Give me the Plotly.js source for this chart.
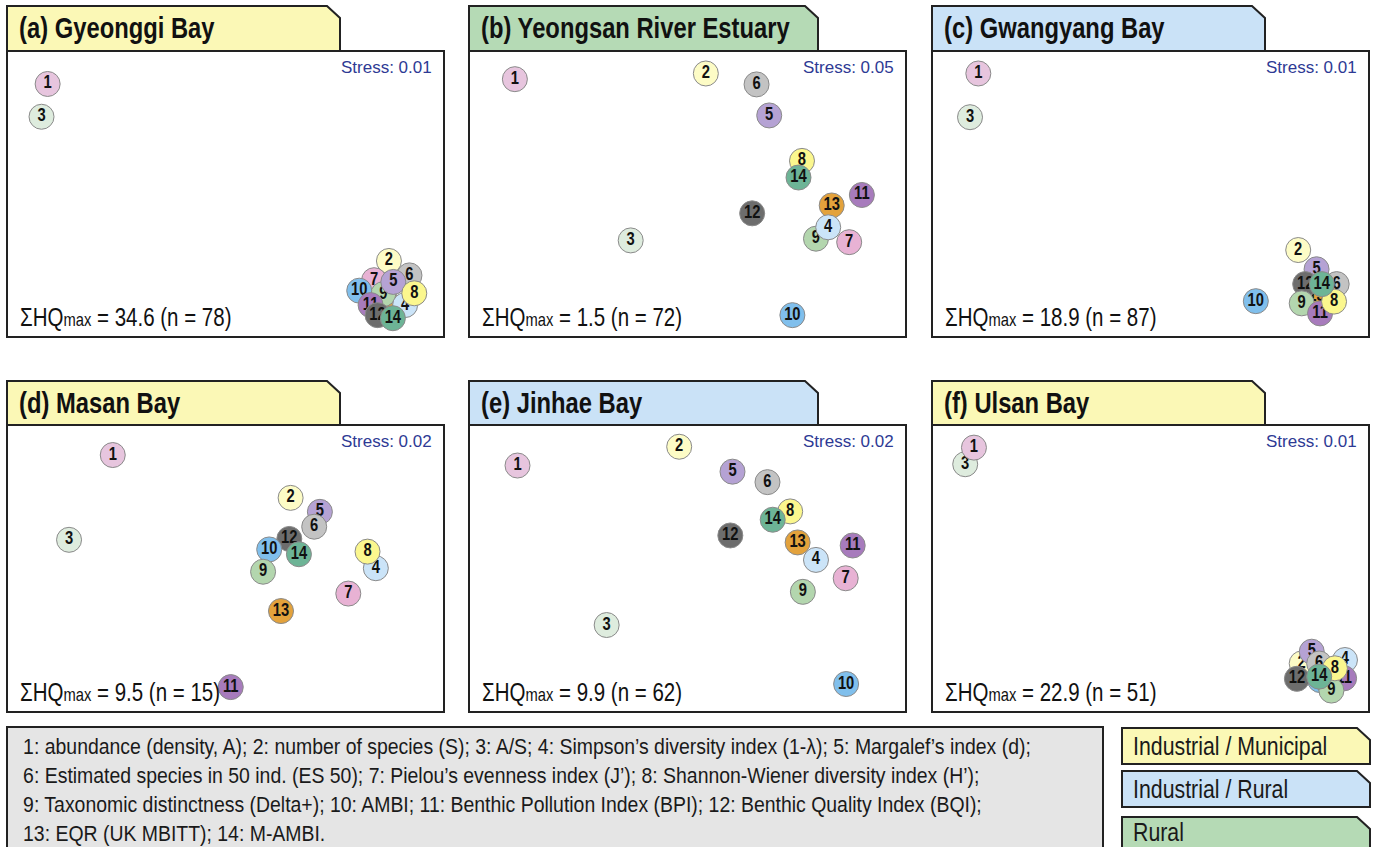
<!DOCTYPE html>
<html>
<head>
<meta charset="utf-8">
<script src="https://cdn.plot.ly/plotly-3.0.1.min.js"></script>
<style>
  html, body { margin: 0; padding: 0; background: #ffffff; }
  #chart { width: 1375px; height: 847px; }
</style>
</head>
<body>
<div id="chart"></div>
<script>
// nMDS ordinations of 14 benthic metrics at six Korean bays.
// Coordinates are in common ordination units (same scale on both axes).

const metricIds = [1, 2, 3, 4, 5, 6, 7, 8, 9, 10, 11, 12, 13, 14];

// (a) Gyeonggi Bay
const gyeonggiX = [9.3, 87.4, 7.9, 91.1, 88.4, 92.1, 84.0, 93.2, 86.1, 80.6, 83.2, 84.8, 86.5, 88.3];
const gyeonggiY = [57.9, 17.4, 50.4, 7.3, 12.6, 14.1, 13.0, 10.0, 9.8, 10.6, 7.3, 5.0, 8.5, 4.3];
// (b) Yeongsan River Estuary
const yeongsanX = [10.5, 54.2, 37.0, 82.2, 68.7, 65.8, 87.0, 76.2, 79.4, 74.0, 89.9, 64.8, 83.0, 75.4];
const yeongsanY = [59.0, 60.3, 22.1, 25.1, 50.7, 57.8, 21.7, 40.3, 22.5, 5.0, 32.5, 28.3, 30.1, 36.5];
// (c) Gwangyang Bay
const gwangyangX = [10.6, 83.8, 8.7, 89.9, 88.0, 92.6, 87.0, 92.0, 84.6, 74.1, 88.8, 85.4, 88.0, 89.2];
const gwangyangY = [60.3, 19.9, 50.3, 10.0, 15.5, 12.1, 8.9, 8.1, 7.7, 8.2, 5.4, 12.1, 9.2, 12.1];
// (d) Masan Bay
const masanX = [24.2, 64.9, 14.2, 84.4, 71.6, 70.3, 78.1, 82.5, 58.6, 60.0, 51.2, 64.6, 62.7, 66.8];
const masanY = [58.8, 49.0, 39.4, 32.9, 45.8, 42.4, 27.1, 36.7, 32.1, 37.2, 5.7, 39.6, 23.1, 36.1];
// (e) Jinhae Bay
const jinhaeX = [11.1, 48.1, 31.5, 79.4, 60.3, 68.3, 86.2, 73.5, 76.4, 86.3, 87.8, 59.8, 75.2, 69.5];
const jinhaeY = [56.4, 60.7, 19.9, 34.8, 55.0, 52.6, 30.6, 45.9, 27.5, 6.4, 38.1, 40.4, 38.8, 44.0];
// (f) Ulsan Bay
const ulsanX = [9.6, 84.6, 7.6, 94.5, 86.9, 88.6, 89.9, 92.2, 91.4, 88.8, 94.3, 83.5, 90.6, 88.6];
const ulsanY = [60.5, 11.1, 56.7, 11.9, 13.8, 11.1, 8.5, 10.0, 4.9, 7.3, 7.7, 7.6, 6.9, 8.1];

// Metric ids listed from the bottom of the stack to the top
const gyeonggiOrder = [13, 2, 7, 9, 10, 6, 5, 4, 8, 11, 12, 14, 1, 3];
const yeongsanOrder = [1, 2, 3, 5, 6, 8, 14, 12, 11, 9, 13, 4, 7, 10];
const gwangyangOrder = [4, 7, 13, 2, 5, 6, 12, 9, 11, 8, 14, 1, 3, 10];
const masanOrder = [1, 2, 3, 5, 6, 12, 10, 9, 14, 4, 8, 7, 13, 11];
const jinhaeOrder = [1, 2, 3, 5, 6, 8, 14, 12, 4, 13, 11, 7, 9, 10];
const ulsanOrder = [3, 1, 7, 10, 13, 2, 4, 5, 6, 11, 9, 12, 8, 14];

const panelLetters = ['a', 'b', 'c', 'd', 'e', 'f'];
const bayNames = ['Gyeonggi Bay', 'Yeongsan River Estuary', 'Gwangyang Bay', 'Masan Bay', 'Jinhae Bay', 'Ulsan Bay'];
const stressValues = [0.01, 0.05, 0.01, 0.02, 0.02, 0.01];
const hqMaxValues = [34.6, 1.5, 18.9, 9.5, 9.9, 22.9];
const sampleCounts = [78, 72, 87, 15, 62, 51];
const bayTypes = ['Industrial / Municipal', 'Rural', 'Industrial / Rural', 'Industrial / Municipal', 'Industrial / Rural', 'Industrial / Municipal'];

const typeNames = ['Industrial / Municipal', 'Industrial / Rural', 'Rural'];

const metricLegendLines = [
  '1: abundance (density, A); 2: number of species (S); 3: A/S; 4: Simpson\u2019s diversity index (1-\u03bb); 5: Margalef\u2019s index (d);',
  '6: Estimated species in 50 ind. (ES 50); 7: Pielou\u2019s evenness index (J\u2019); 8: Shannon-Wiener diversity index (H\u2019);',
  '9: Taxonomic distinctness (Delta+); 10: AMBI; 11: Benthic Pollution Index (BPI); 12: Benthic Quality Index (BQI);',
  '13: EQR (UK MBITT); 14: M-AMBI.'
];

// ---- styling ----
const metricColors = ['#e7c5de', '#fdfcc6', '#deecde', '#cbe4f8', '#b5a2d4', '#c3c3c3', '#e8b2d4',
                      '#fbf78e', '#b3d6ae', '#80bfec', '#a77bbc', '#6d6d6d', '#e3a23c', '#6db496'];
const typeColors = { 'Industrial / Municipal': '#fbf8b6', 'Industrial / Rural': '#cae2f7', 'Rural': '#b5dab5' };

const FONT = "'Liberation Sans', Arial, sans-serif";
const EDGE = '#222222';
const NARROW_FACTOR = 0.82;     // horizontal squeeze giving a condensed face
const KEY_LINE_WIDTH = 1008;    // width of the longest line of the metric key, px

const W = 1375, H = 847;
const px = v => v / W;
const py = v => 1 - v / H;
const UNIT = 4.37; // pixels per ordination unit

const columns = [{ left: 7, right: 444, tabRight: 340 },
                 { left: 469, right: 906, tabRight: 818 },
                 { left: 932, right: 1369, tabRight: 1265 }];
const rows = [{ tabTop: 6, top: 51, bottom: 337 },
              { tabTop: 381, top: 425, bottom: 712 }];

const panelX = [gyeonggiX, yeongsanX, gwangyangX, masanX, jinhaeX, ulsanX];
const panelY = [gyeonggiY, yeongsanY, gwangyangY, masanY, jinhaeY, ulsanY];
const panelOrder = [gyeonggiOrder, yeongsanOrder, gwangyangOrder, masanOrder, jinhaeOrder, ulsanOrder];

const traces = [];
const shapes = [];
const annotations = [];
const squeezed = [];   // {index, anchor, factor} for annotations drawn condensed
const keyLines = [];   // annotation indices of the metric key lines
const layout = {
  width: W, height: H,
  margin: { l: 0, r: 0, t: 0, b: 0 },
  paper_bgcolor: '#ffffff',
  plot_bgcolor: 'rgba(0,0,0,0)',
  showlegend: false,
  hovermode: false
};

function tabPath(l, r, t, b) {
  return `M ${px(l)},${py(b)} L ${px(l)},${py(t)} L ${px(r - 13)},${py(t)} L ${px(r)},${py(t + 12)} L ${px(r)},${py(b)} Z`;
}
function addNote(a, anchor, factor) {
  annotations.push(a);
  if (factor) squeezed.push({ index: annotations.length - 1, anchor: anchor, factor: factor });
  return annotations.length - 1;
}

for (let i = 0; i < 6; i++) {
  const col = columns[i % 3];
  const row = rows[Math.floor(i / 3)];
  const suffix = i === 0 ? '' : String(i + 1);

  layout['xaxis' + suffix] = {
    domain: [px(col.left), px(col.right)], range: [0, (col.right - col.left) / UNIT],
    visible: false, fixedrange: true
  };
  layout['yaxis' + suffix] = {
    domain: [py(row.bottom), py(row.top)], range: [0, (row.bottom - row.top) / UNIT],
    visible: false, fixedrange: true
  };

  // title tab and frame
  shapes.push({
    type: 'path', xref: 'paper', yref: 'paper', layer: 'below',
    path: tabPath(col.left, col.tabRight, row.tabTop, row.top),
    fillcolor: typeColors[bayTypes[i]], line: { color: EDGE, width: 2 }
  });
  shapes.push({
    type: 'rect', xref: 'paper', yref: 'paper', layer: 'below',
    x0: px(col.left), x1: px(col.right), y0: py(row.bottom), y1: py(row.top),
    fillcolor: '#ffffff', line: { color: EDGE, width: 2 }
  });

  addNote({
    xref: 'paper', yref: 'paper', x: px(col.left + 10), y: py(row.tabTop + 22),
    xanchor: 'left', yanchor: 'middle', showarrow: false,
    text: `(${panelLetters[i]}) ${bayNames[i]}`,
    font: { family: FONT, size: 29, color: '#111111', weight: 'bold' }
  }, 'left', NARROW_FACTOR);
  addNote({
    xref: 'paper', yref: 'paper', x: px(col.right - 10), y: py(row.top + 16),
    xanchor: 'right', yanchor: 'middle', showarrow: false,
    text: `Stress: ${stressValues[i].toFixed(2)}`,
    font: { family: FONT, size: 17, color: '#2e3a94' }
  });
  addNote({
    xref: 'paper', yref: 'paper', x: px(col.left + 11), y: py(row.bottom - 20),
    xanchor: 'left', yanchor: 'middle', showarrow: false,
    text: `\u03a3HQ<span style="font-size:18px">max</span> = ${hqMaxValues[i].toFixed(1)} (n = ${sampleCounts[i]})`,
    font: { family: FONT, size: 25, color: '#111111' }
  }, 'left', NARROW_FACTOR);

  const xs = panelX[i], ys = panelY[i];
  panelOrder[i].forEach(id => {
    const k = metricIds.indexOf(id);
    traces.push({
      type: 'scatter', mode: 'markers+text',
      x: [xs[k]], y: [ys[k]], text: [String(id)],
      xaxis: 'x' + suffix, yaxis: 'y' + suffix,
      textposition: 'middle center', cliponaxis: false, hoverinfo: 'skip',
      marker: { size: 25, color: metricColors[k], line: { color: '#8a8a8a', width: 1 } },
      textfont: { family: FONT, size: 18, color: '#111111', weight: 'bold' }
    });
  });
}

// metric key box
shapes.push({
  type: 'rect', xref: 'paper', yref: 'paper', layer: 'below',
  x0: px(7), x1: px(1103), y0: py(875), y1: py(727),
  fillcolor: '#e5e5e5', line: { color: EDGE, width: 2 }
});
metricLegendLines.forEach((line, j) => {
  keyLines.push(addNote({
    xref: 'paper', yref: 'paper', x: px(21), y: py(746 + j * 29),
    xanchor: 'left', yanchor: 'middle', showarrow: false,
    text: line, font: { family: FONT, size: 22, color: '#1a1a1a' }
  }));
});

// bay type key
const typeTops = [728, 771, 817];
const typeLabelOffsets = [18, 18, 15];
typeNames.forEach((name, j) => {
  const t = typeTops[j];
  const b = j === 2 ? 875 : t + 36;
  shapes.push({
    type: 'path', xref: 'paper', yref: 'paper', layer: 'below',
    path: tabPath(1122, 1370, t, b),
    fillcolor: typeColors[name], line: { color: EDGE, width: 2 }
  });
  addNote({
    xref: 'paper', yref: 'paper', x: px(1131), y: py(t + typeLabelOffsets[j]),
    xanchor: 'left', yanchor: 'middle', showarrow: false,
    text: name, font: { family: FONT, size: 26, color: '#1a1a1a' }
  }, 'left', NARROW_FACTOR);
});

layout.shapes = shapes;
layout.annotations = annotations;

// Squeeze a text element horizontally around its left edge, right edge or centre.
function squeeze(el, factor, anchor) {
  const bb = el.getBBox();
  const ax = anchor === 'left' ? bb.x : anchor === 'right' ? bb.x + bb.width : bb.x + bb.width / 2;
  const base = el.getAttribute('transform') || '';
  el.setAttribute('transform', `${base} translate(${ax * (1 - factor)},0) scale(${factor},1)`.trim());
}

const gd = document.getElementById('chart');
Plotly.newPlot(gd, traces, layout, { staticPlot: true, displayModeBar: false }).then(() => {
  const noteText = i => gd.querySelector(`.annotation[data-index="${i}"] text.annotation-text`);
  squeezed.forEach(s => {
    const el = noteText(s.index);
    if (el) squeeze(el, s.factor, s.anchor);
  });
  // metric key: all lines share the squeeze that fits the first line to its width
  const first = noteText(keyLines[0]);
  if (first) {
    const f = Math.min(1, KEY_LINE_WIDTH / first.getBBox().width);
    keyLines.forEach(i => { const el = noteText(i); if (el) squeeze(el, f, 'left'); });
  }
  // condensed numerals inside the markers
  gd.querySelectorAll('.scatterlayer .textpoint text').forEach(el => squeeze(el, NARROW_FACTOR, 'center'));
});
</script>
</body>
</html>
